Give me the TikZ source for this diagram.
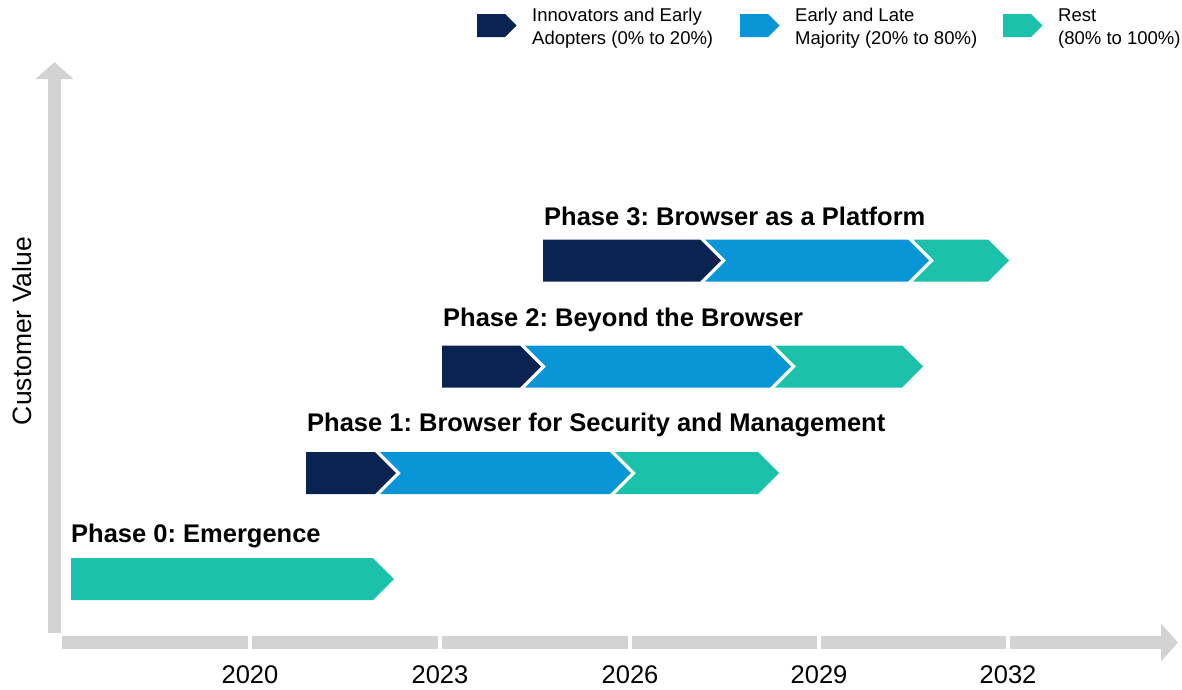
\documentclass[tikz,border=0pt]{standalone}
\usepackage{fontspec}
\setmainfont{Liberation Sans}
\frenchspacing
\usetikzlibrary{arrows.meta}
\definecolor{innov}{HTML}{0B2350}
\definecolor{major}{HTML}{0A96D6}
\definecolor{rest}{HTML}{1CC1AC}
\definecolor{axisgray}{HTML}{D3D3D3}
\newcommand{\chev}[6][21]{% [half height]{colour}{left}{right}{centre}{notch}
  \fill[fill=#2] (#3,#5-#1) -- (#4,#5-#1) -- (#4+#1,#5) -- (#4,#5+#1)
    -- (#3,#5+#1) -- (#3+#6,#5) -- cycle;
}
\tikzset{
  axisbar/.style={draw=axisgray, line width=13pt, -{Triangle[width=37pt,length=17pt]}},
  phase/.style={anchor=west, inner sep=0pt, font=\fontsize{25.5}{30}\selectfont\bfseries},
  year/.style={inner sep=0pt, font=\fontsize{25.5}{30}\selectfont},
  legend/.style={anchor=west, inner sep=0pt, align=left, font=\fontsize{18.5}{23}\selectfont},
}
\begin{document}
\begin{tikzpicture}[x=1pt,y=-1pt]
  \useasboundingbox (0,0) rectangle (1182,689);

  % axes
  \coordinate (ybot) at (54.5,633);
  \coordinate (ytop) at (54.5,62);
  \coordinate (xleft) at (62,642.5);
  \coordinate (xright) at (1178,642.5);
  \draw[axisbar] (ybot) -- (ytop);
  \draw[axisbar] (xleft) -- (xright);
  \node[rotate=90, inner sep=0pt, font=\fontsize{26.5}{30}\selectfont] (value) at (22,331) {Customer Value};
  \foreach \x/\yr in {250/2020,440/2023,630/2026,819/2029,1008/2032}{
    \draw[white, line width=4pt] (\x,634) -- (\x,651);% gap in the axis
    \node[year] (y\yr) at (\x,675) {\yr};
  }

  % phases
  \chev{rest}{71}{373}{579}{0}
  \node[phase] (p0) at (71,536) {Phase 0: Emergence};
  \foreach \n/\y/\ly/\a/\b/\c/\d/\txt in {
      1/473/425/306/375/610/758/{Browser for Security and Management},
      2/366.5/320/442/520/770/902/{Beyond the Browser},
      3/260.5/216/543/700/908/988/{Browser as a Platform}}{
    \chev{innov}{\a}{\b}{\y}{0}
    \chev{major}{\b+5}{\c}{\y}{21}
    \chev{rest}{\c+5}{\d}{\y}{21}
    \node[phase] (p\n) at (\a+1,\ly) {Phase \n: \txt};
  }

  % legend
  \foreach \x/\col/\txt [count=\i] in {
      477/innov/{Innovators and Early\\Adopters (0\% to 20\%)},
      740/major/{Early and Late\\Majority (20\% to 80\%)},
      1003/rest/{Rest\\(80\% to 100\%)}}{
    \chev[11.5]{\col}{\x}{\x+28}{25.5}{0}
    \node[legend] (leg\i) at (\x+55,28.5) {\txt};
  }
\end{tikzpicture}
\end{document}
